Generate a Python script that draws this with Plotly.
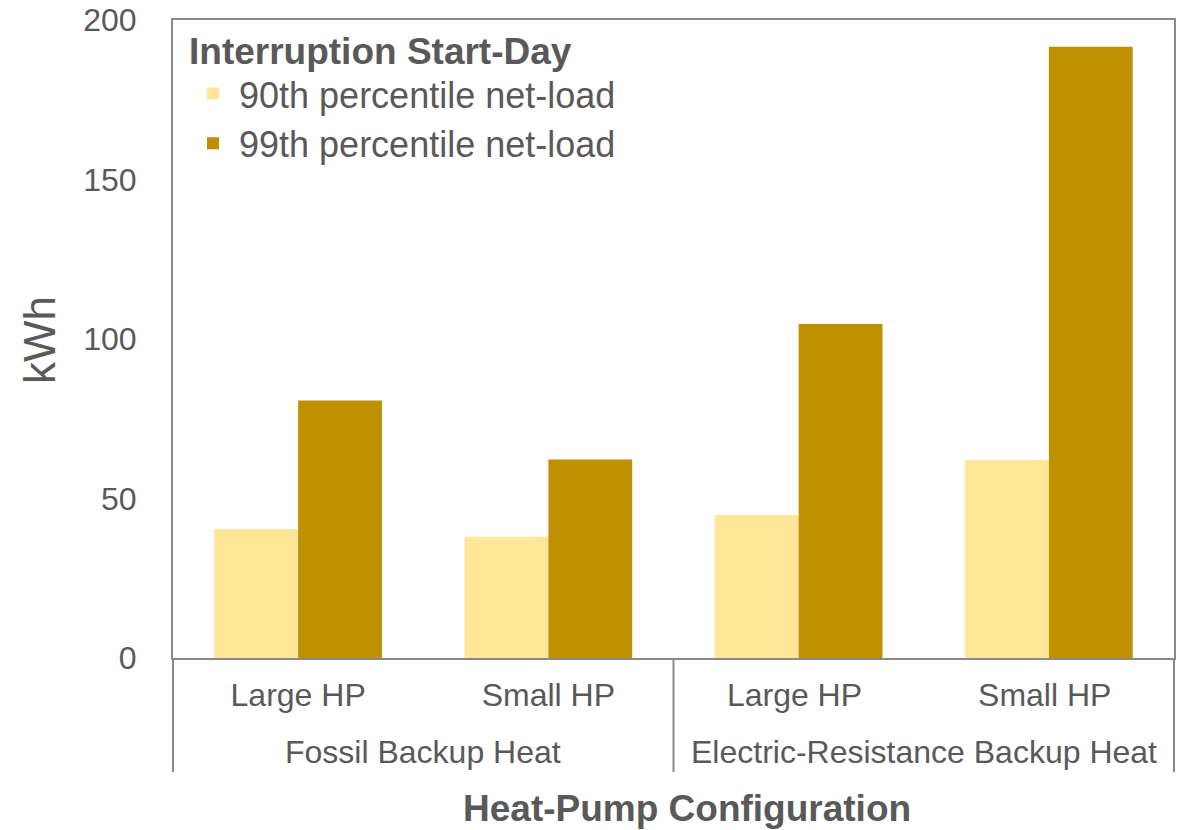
import plotly.graph_objects as go

categories = ["Large HP", "Small HP", "Large HP ", "Small HP "]
groups = ["Fossil Backup Heat", "Electric-Resistance Backup Heat"]
p90 = [40.4, 38.0, 44.8, 62.1]
p99 = [80.7, 62.2, 104.7, 191.6]
series_names = ["90th percentile net-load", "99th percentile net-load"]
yticks = [0, 50, 100, 150, 200]

GRAY = "#595959"
LINE = "#898989"
FONT = "Liberation Sans, Arial, sans-serif"

OFF = 8  # default page body margin
W, H = 1186 - OFF, 830 - OFF
L, R, T, B = 173 - OFF, 1174 - OFF, 20 - OFF, 658 - OFF
PW, PH = R - L, B - T

fig = go.Figure()
fig.add_trace(go.Bar(x=categories, y=p90, name=series_names[0],
                     marker=dict(color="#FFE699", line=dict(width=0))))
fig.add_trace(go.Bar(x=categories, y=p99, name=series_names[1],
                     marker=dict(color="#BF9000", line=dict(width=0))))

fig.update_layout(
    width=W, height=H,
    margin=dict(l=L, r=W - R, t=T, b=H - B, autoexpand=False),
    paper_bgcolor="white", plot_bgcolor="white",
    barmode="group", bargap=0.33, bargroupgap=0,
    font=dict(family=FONT, color=GRAY),
    legend=dict(
        title=dict(text="<b>Interruption Start-Day</b>", font=dict(size=37, color=GRAY)),
        font=dict(size=36, color=GRAY),
        x=0.014, y=1.007, xanchor="left", yanchor="top",
        bgcolor="rgba(0,0,0,0)", itemwidth=42, tracegroupgap=0,
    ),
    showlegend=True,
)

fig.update_xaxes(
    type="category", showline=True, linecolor=LINE, linewidth=2, mirror=True,
    ticks="", tickfont=dict(size=32, color=GRAY), ticklabelstandoff=8,
    showgrid=False, zeroline=False, automargin=False,
)
fig.update_yaxes(
    range=[0, 200], tickvals=yticks, showline=True, linecolor=LINE, linewidth=2,
    mirror=True, ticks="", tickfont=dict(size=32, color=GRAY), ticklabelstandoff=28,
    ticklabeloverflow="allow",
    showgrid=False, zeroline=False, automargin=False,
)

# y-axis title
fig.add_annotation(text="kWh", xref="paper", yref="paper", x=(40 - OFF - L) / PW,
                   y=(B - (340 - OFF)) / PH, showarrow=False, textangle=-90,
                   xanchor="center", yanchor="middle",
                   font=dict(size=44, color=GRAY, family=FONT))

# group dividers below axis
y_bot = -(772 - 658) / PH
for xp in [0, 0.5, 1]:
    fig.add_shape(type="line", xref="paper", yref="paper", x0=xp, x1=xp, y0=0, y1=y_bot,
                  line=dict(color=LINE, width=2))

# group labels
for i, g in enumerate(groups):
    fig.add_annotation(text=g, xref="paper", yref="paper", x=0.25 + 0.5 * i,
                       y=-(752 - 658) / PH, showarrow=False, xanchor="center",
                       yanchor="middle", font=dict(size=32, color=GRAY, family=FONT))

fig.add_annotation(text="<b>Heat-Pump Configuration</b>", xref="paper", yref="paper",
                   x=(687 - 173) / PW, y=-(808 - 658) / PH, showarrow=False,
                   xanchor="center", yanchor="middle",
                   font=dict(size=37, color=GRAY, family=FONT))

fig.write_html("out.html")
